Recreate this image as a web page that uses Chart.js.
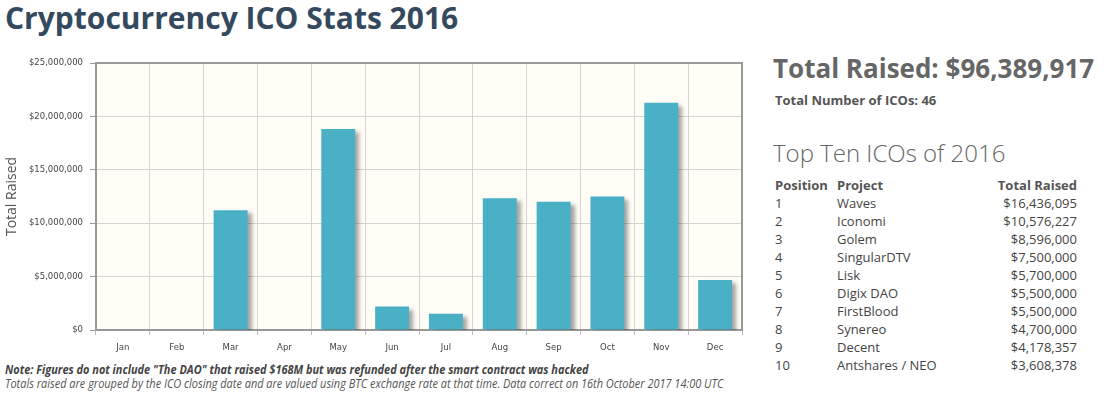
<!DOCTYPE html>
<html lang="en">
<head>
  <meta charset="UTF-8" />
  <title>Cryptocurrency ICO Stats 2016</title>
  <script src="https://cdn.jsdelivr.net/npm/chart.js"></script>
  <style>
    body {
      margin: 0;
      background: #fff;
      font-family: 'Open Sans', sans-serif;
      width: 1106px;
      height: 399px;
      position: relative;
      overflow: hidden;
    }
    h1 {
      position: absolute;
      left: 5px;
      top: -3px;
      margin: 0;
      font-size: 30px;
      font-weight: 700;
      color: #34495e;
    }
    #chart-box {
      position: absolute;
      left: 0;
      top: 50px;
      width: 760px;
      height: 305px;
    }
    .note {
      position: absolute;
      left: 5px;
      font-size: 12px;
      font-style: italic;
      color: #555;
      white-space: nowrap;
      transform: scaleX(0.912);
      transform-origin: left top;
    }
    #note1 { top: 361px; font-weight: 700; color: #444; }
    #note2 { top: 375px; }
    #side {
      position: absolute;
      left: 773px;
      top: 50px;
      color: #666;
    }
    #total { font-size: 26px; font-weight: 700; margin: 0; line-height: 36px; }
    #count { font-size: 13px; font-weight: 700; color: #555; margin: 6px 0 0 2px; line-height: 16px; }
    #topten { font-size: 24px; font-weight: 300; margin: 30px 0 0 0; line-height: 30px; color: #666; }
    table { border-collapse: collapse; margin-top: 8px; font-size: 13px; color: #444; }
    td, th { padding: 0; line-height: 18px; text-align: left; }
    th { font-weight: 700; color: #555; }
    .pos { width: 62px; padding-left: 2px; }
    .proj { width: 160px; }
    .amt { width: 80px; text-align: right; }
  </style>
</head>
<body>
  <h1>Cryptocurrency ICO Stats 2016</h1>
  <div id="chart-box">
    <canvas id="icoChart"></canvas>
  </div>
  <div class="note" id="note1">Note: Figures do not include "The DAO" that raised $168M but was refunded after the smart contract was hacked</div>
  <div class="note" id="note2">Totals raised are grouped by the ICO closing date and are valued using BTC exchange rate at that time. Data correct on 16th October 2017 14:00 UTC</div>

  <div id="side">
    <p id="total">Total Raised: $96,389,917</p>
    <p id="count">Total Number of ICOs: 46</p>
    <p id="topten">Top Ten ICOs of 2016</p>
    <table id="top-table">
      <thead>
        <tr><th class="pos">Position</th><th class="proj">Project</th><th class="amt">Total Raised</th></tr>
      </thead>
      <tbody></tbody>
    </table>
  </div>

  <script>
    const months = ['Jan', 'Feb', 'Mar', 'Apr', 'May', 'Jun', 'Jul', 'Aug', 'Sep', 'Oct', 'Nov', 'Dec'];
    const raised = [0, 0, 11220000, 0, 18810000, 2190000, 1530000, 12340000, 12000000, 12500000, 21270000, 4690000];

    const topProjects = ['Waves', 'Iconomi', 'Golem', 'SingularDTV', 'Lisk', 'Digix DAO', 'FirstBlood', 'Synereo', 'Decent', 'Antshares / NEO'];
    const topRaised = [16436095, 10576227, 8596000, 7500000, 5700000, 5500000, 5500000, 4700000, 4178357, 3608378];

    const money = v => '$' + Number(v).toLocaleString('en-US');

    // side table
    const tbody = document.querySelector('#top-table tbody');
    topProjects.forEach((p, i) => {
      const tr = document.createElement('tr');
      tr.innerHTML = '<td class="pos">' + (i + 1) + '</td><td class="proj">' + p + '</td><td class="amt">' + money(topRaised[i]) + '</td>';
      tbody.appendChild(tr);
    });

    // cream plot background + frame
    const plotFrame = {
      id: 'plotFrame',
      beforeDraw(chart) {
        const { ctx, chartArea: a } = chart;
        ctx.save();
        ctx.fillStyle = '#fffdf6';
        ctx.fillRect(a.left, a.top, a.right - a.left, a.bottom - a.top);
        ctx.restore();
      },
      afterDraw(chart) {
        const { ctx, chartArea: a } = chart;
        ctx.save();
        ctx.strokeStyle = '#999';
        ctx.lineWidth = 2;
        ctx.beginPath();
        ctx.moveTo(a.left, a.top);
        ctx.lineTo(a.right, a.top);
        ctx.lineTo(a.right, a.bottom);
        ctx.stroke();
        ctx.restore();
      }
    };

    // soft shadow behind bars
    const barShadow = {
      id: 'barShadow',
      beforeDatasetsDraw(chart) {
        const ctx = chart.ctx;
        ctx.save();
        ctx.shadowColor = 'rgba(0,0,0,0.35)';
        ctx.shadowOffsetX = 4;
        ctx.shadowOffsetY = 3;
        ctx.shadowBlur = 4;
      },
      afterDatasetsDraw(chart) {
        chart.ctx.restore();
      }
    };

    const tickFont = { family: 'DejaVu Sans', size: 8.5 };

    new Chart(document.getElementById('icoChart'), {
      type: 'bar',
      data: {
        labels: months,
        datasets: [{
          label: 'Total Raised',
          data: raised,
          backgroundColor: '#4ab0c6',
          borderWidth: 0,
          barPercentage: 0.63,
          categoryPercentage: 1
        }]
      },
      options: {
        responsive: true,
        maintainAspectRatio: false,
        animation: false,
        layout: { padding: { top: 13, right: 18, left: 0, bottom: 0 } },
        plugins: {
          legend: { display: false },
          tooltip: { enabled: false }
        },
        scales: {
          x: {
            grid: { color: '#d4d4d4', tickColor: '#bbb', tickLength: 5 },
            border: { color: '#999', width: 2 },
            ticks: { font: tickFont, color: '#444', padding: 8 },
            afterFit(s) { s.height = 25; }
          },
          y: {
            min: 0,
            max: 25000000,
            grid: { color: '#d4d4d4', tickColor: '#999', tickLength: 6 },
            border: { color: '#999', width: 2 },
            ticks: {
              stepSize: 5000000,
              font: tickFont,
              color: '#444',
              padding: 7,
              callback: v => money(v)
            },
            title: {
              display: true,
              text: 'Total Raised',
              color: '#555',
              font: { family: 'Open Sans', size: 14 },
              padding: { top: 4, bottom: 0 }
            },
            afterFit(s) { s.width = 96; }
          }
        }
      },
      plugins: [plotFrame, barShadow]
    });
  </script>
</body>
</html>
